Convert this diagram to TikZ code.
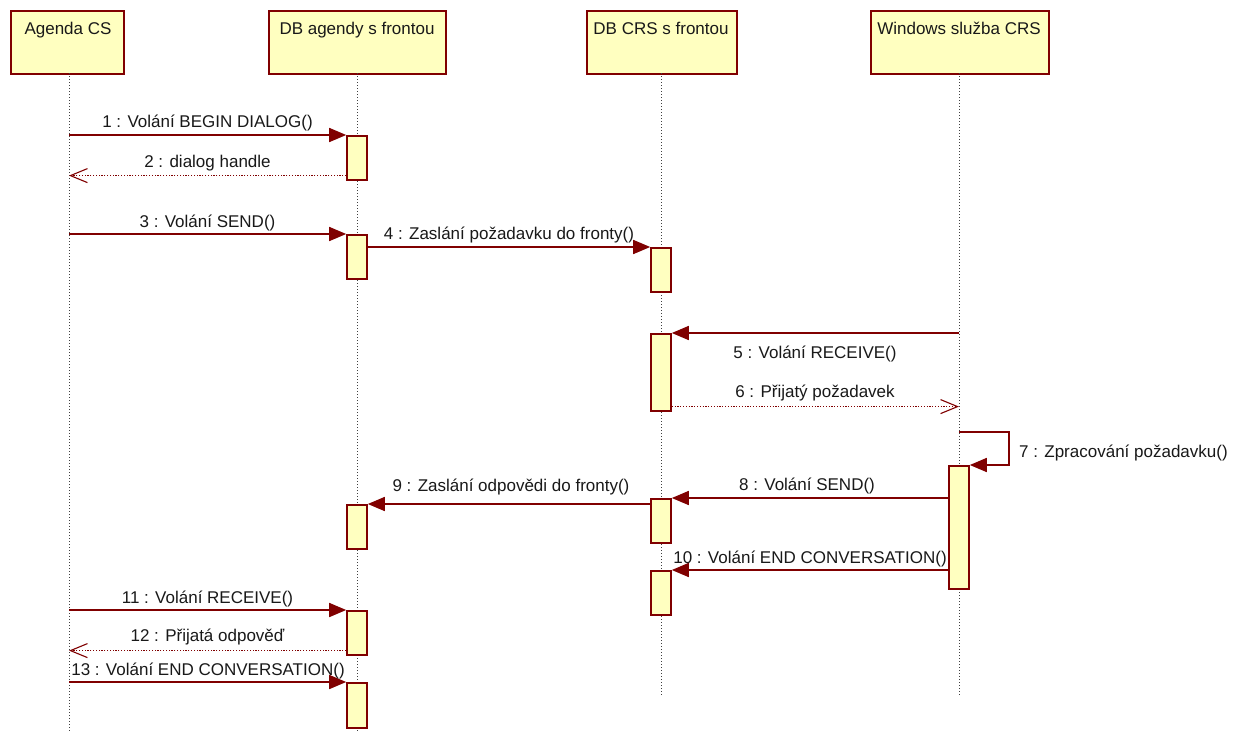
\documentclass[tikz,border=0pt]{standalone}
\usepackage{fontspec}
\setmainfont{Liberation Sans}
\usetikzlibrary{arrows.meta,calc}
\definecolor{mar}{RGB}{128,0,0}
\definecolor{pale}{RGB}{255,255,192}
\begin{document}
\begin{tikzpicture}[x=1pt,y=-1pt,
 head/.style={draw=mar, fill=pale, line width=1.6pt, minimum height=63pt, inner sep=0pt, anchor=north west},
 act/.style={draw=mar, fill=pale, line width=1.6pt, minimum width=20pt, inner sep=0pt, anchor=north},
 life/.style={draw=black!75, line width=0.9pt, dash pattern=on 1.2pt off 1.8pt},
 call/.style={draw=mar, line width=1.6pt, -{Triangle[length=17pt,width=14pt]}},
 ret/.style={draw=mar, line width=1.1pt, dash pattern=on 1.2pt off 1.6pt, -{Straight Barb[length=17pt,width=14pt,line width=1.1pt]}},
 lbl/.style={font=\fontsize{17}{20}\selectfont, text=black!90, inner sep=0pt, anchor=base},
]
\fill[white] (0,0) rectangle (1238,731);
\useasboundingbox (0,0) rectangle (1238,731);

% headers
\node[head, minimum width=113pt] (h1) at (10,10) {};
\node[head, minimum width=177pt] (h2) at (268,10) {};
\node[head, minimum width=150pt] (h3) at (586,10) {};
\node[head, minimum width=178pt] (h4) at (870,10) {};
\node[lbl] (t1) at (68,34) {Agenda CS};
\node[lbl] (t2) at (357,34) {DB agendy s frontou};
\node[lbl] (t3) at (661,34) {DB CRS s frontou};
\node[lbl] (t4) at (959,34) {Windows služba CRS};

% lifelines
\coordinate (L1) at (69,73);  \coordinate (E1) at (69,731);
\coordinate (L2) at (357,73); \coordinate (E2) at (357,731);
\coordinate (L3) at (661,73); \coordinate (E3) at (661,695);
\coordinate (L4) at (959,73); \coordinate (E4) at (959,695);
\draw[life] (L1) -- (E1);
\draw[life] (L2) -- (E2);
\draw[life] (L3) -- (E3);
\draw[life] (L4) -- (E4);

% activations
\node[act, minimum height=44pt] (a1) at (357,135) {};
\node[act, minimum height=44pt] (a2) at (357,234) {};
\node[act, minimum height=44pt] (b1) at (661,247) {};
\node[act, minimum height=77pt] (b2) at (661,333) {};
\node[act, minimum height=123pt] (w1) at (959,465) {};
\node[act, minimum height=44pt] (b3) at (661,498) {};
\node[act, minimum height=44pt] (a3) at (357,504) {};
\node[act, minimum height=44pt] (b4) at (661,570) {};
\node[act, minimum height=44pt] (a4) at (357,610) {};
\node[act, minimum height=45pt] (a5) at (357,682) {};

% messages
\draw[call] (L1 |- a1.north) -- (a1.north west);
\coordinate (m2) at ([yshift=5pt]a1.south west);
\draw[ret] (m2) -- (m2 -| L1);
\draw[call] (L1 |- a2.north) -- (a2.north west);
\draw[call] (a2.east |- b1.north) -- (b1.north west);
\draw[call] (L4 |- b2.north) -- (b2.north east);
\coordinate (m6) at ([yshift=5pt]b2.south east);
\draw[ret] (m6) -- (m6 -| L4);
\coordinate (s7) at (959,432);
\draw[call] (s7) -- ++(50,0) |- (w1.north east);
\draw[call] (w1.west |- b3.north) -- (b3.north east);
\draw[call] (b3.west |- a3.north) -- (a3.north east);
\draw[call] (w1.west |- b4.north) -- (b4.north east);
\draw[call] (L1 |- a4.north) -- (a4.north west);
\coordinate (m12) at ([yshift=5pt]a4.south west);
\draw[ret] (m12) -- (m12 -| L1);
\draw[call] (L1 |- a5.north) -- (a5.north west);

% labels
\node[lbl] (l1) at (207.5,127) {1 : Volání BEGIN DIALOG()};
\node[lbl] (l2) at (207.5,167) {2 : dialog handle};
\node[lbl] (l3) at (207.5,227) {3 : Volání SEND()};
\node[lbl] (l4) at (509,239) {4 : Zaslání požadavku do fronty()};
\node[lbl] (l5) at (815,358) {5 : Volání RECEIVE()};
\node[lbl] (l6) at (815,397) {6 : Přijatý požadavek};
\node[lbl, anchor=base west] (l7) at (1019,457) {7 : Zpracování požadavku()};
\node[lbl] (l8) at (807,490) {8 : Volání SEND()};
\node[lbl] (l9) at (511,491) {9 : Zaslání odpovědi do fronty()};
\node[lbl] (l10) at (810,563) {10 : Volání END CONVERSATION()};
\node[lbl] (l11) at (207.5,603) {11 : Volání RECEIVE()};
\node[lbl] (l12) at (207.5,641) {12 : Přijatá odpověď};
\node[lbl] (l13) at (208,675) {13 : Volání END CONVERSATION()};
\end{tikzpicture}
\end{document}
